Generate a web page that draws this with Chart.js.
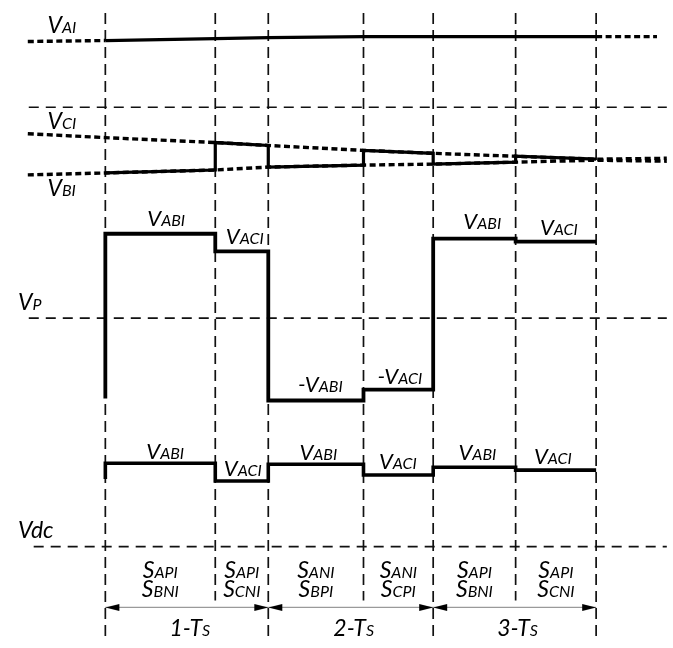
<!DOCTYPE html>
<html>
<head>
<meta charset="utf-8">
<script src="https://cdn.jsdelivr.net/npm/chart.js@4.4.1/dist/chart.umd.min.js"></script>
<style>
html,body{margin:0;padding:0;background:#fff;}
#wrap{width:673px;height:648px;position:relative;}
canvas{display:block;}
</style>
</head>
<body>
<div id="wrap"><canvas id="c" width="673" height="648"></canvas></div>
<script>
// ---------------- data ----------------
const switchTimes = [101, 213, 267, 364, 435, 519, 601];   // switching instants
const leadIn = 22, leadOut = 673, vaLeadOut = 663;
// phase voltages sampled at [leadIn, ...switchTimes, end]
const vaLevels = [36, 35, 33, 32, 31, 31, 31, 31, 31];
const vcLevels = [130, 134, 139, 142, 147, 150, 153, 156, 155];
const vbLevels = [172, 170, 167, 164, 162, 161, 159, 157, 158];
// VP waveform (one level per interval)
const vpStart = 400;
const vpLevels = [232, 250, 402, 391, 237, 240];
// Vdc waveform
const vdcStart = 482;
const vdcLevels = [466, 484, 467, 478, 470, 473];
// reference (dashed) levels
const refLevels = [103, 318, 551];
const refStarts = [23, 23, 28];
// interval labels
const vpLabelMain = ['V', 'V', '-V', '-V', 'V', 'V'];
const vpLabelSub  = ['ABI', 'ACI', 'ABI', 'ACI', 'ABI', 'ACI'];
const vdcLabelMain = ['V', 'V', 'V', 'V', 'V', 'V'];
const vdcLabelSub  = ['ABI', 'ACI', 'ABI', 'ACI', 'ABI', 'ACI'];
const switchTop    = ['API', 'API', 'ANI', 'ANI', 'API', 'API'];
const switchBottom = ['BNI', 'CNI', 'BPI', 'CPI', 'BNI', 'CNI'];
const periodNames  = ['1', '2', '3'];
const sideLabels = [['V','AI'], ['V','CI'], ['V','BI'], ['V','P'], ['Vdc','']];

// ---------------- layout (positions / styles, not data) ----------------
const gridTop = 7, gridBottomLong = 642, gridBottomShort = 606;
const dimY = 613;
const vpLabelPos  = [[163,224],[243,242],[320,393],[401,385],[485,227],[563,233]];
const vdcLabelPos = [[162,462],[241,479],[318,463],[399,472],[480,463],[557,467]];
const sideLabelPos = [[42,27],[42,125],[42,194],[12,310],[12,542]];
const switchBaselines = [583, 602];
const periodBaseline = 642;

function pts(arr){ return arr.map(([x,y]) => ({x, y})); }
function arrowCanvas(dir){
  const c = document.createElement('canvas');
  c.width = 30; c.height = 9;
  const g = c.getContext('2d');
  g.fillStyle = '#000';
  g.beginPath();
  if (dir > 0) { g.moveTo(15, 4.5); g.lineTo(1, 1); g.lineTo(1, 8); }
  else { g.moveTo(15, 4.5); g.lineTo(29, 1); g.lineTo(29, 8); }
  g.closePath(); g.fill();
  return c;
}
const arrowL = arrowCanvas(-1), arrowR = arrowCanvas(1);

const datasets = [];
const gridStyle = { borderColor:'#111', borderWidth:1.7, borderDash:[11,6], order:5 };
// vertical dashed grid
switchTimes.forEach((t, i) => {
  const bottom = (i % 2 === 0) ? gridBottomLong : gridBottomShort;
  datasets.push(Object.assign({ data: pts([[t, gridTop], [t, bottom]]) }, gridStyle));
});
// horizontal dashed reference lines
refLevels.forEach((y, i) => {
  datasets.push(Object.assign({ data: pts([[refStarts[i], y], [leadOut, y]]) }, gridStyle, { borderDash:[10,7] }));
});
const dotStyle = { borderColor:'#000', borderWidth:3.4, borderDash:[6,3.5], order:3 };
const solidStyle = { borderColor:'#000', borderWidth:3.4, order:1, borderJoinStyle:'miter' };
// VA
datasets.push(Object.assign({ data: pts([[leadIn, vaLevels[0]], [switchTimes[0], vaLevels[1]]]) }, dotStyle));
datasets.push(Object.assign({ data: pts([[switchTimes[6], vaLevels[7]], [vaLeadOut, vaLevels[8]]]) }, dotStyle));
datasets.push(Object.assign({ data: pts(switchTimes.map((t, i) => [t, vaLevels[i + 1]])) }, solidStyle, { borderWidth:3.2 }));
// VC, VB full dotted traces
const traceX = [leadIn, ...switchTimes, leadOut];
datasets.push(Object.assign({ data: pts(traceX.map((x, i) => [x, vcLevels[i]])) }, dotStyle));
datasets.push(Object.assign({ data: pts(traceX.map((x, i) => [x, vbLevels[i]])) }, dotStyle));
// active (solid) phase
const active = [];
for (let i = 0; i < 6; i++) {
  const src = (i % 2 === 0) ? vbLevels : vcLevels;
  active.push([switchTimes[i], src[i + 1]], [switchTimes[i + 1], src[i + 2]]);
}
datasets.push(Object.assign({ data: pts(active) }, solidStyle, { borderWidth:3.2 }));
// VP
const vp = [[switchTimes[0], vpStart]];
vpLevels.forEach((v, i) => { vp.push([switchTimes[i], v], [switchTimes[i + 1], v]); });
datasets.push(Object.assign({ data: pts(vp) }, solidStyle, { borderWidth:3.8 }));
// Vdc
const vd = [[switchTimes[0], vdcStart]];
vdcLevels.forEach((v, i) => { vd.push([switchTimes[i], v], [switchTimes[i + 1], v]); });
datasets.push(Object.assign({ data: pts(vd) }, solidStyle, { borderWidth:3.6 }));
// dimension arrows
for (let k = 0; k < 3; k++) {
  const a = switchTimes[2 * k], b = switchTimes[2 * k + 2];
  datasets.push({
    data: pts([[a, dimY], [b, dimY]]),
    borderColor:'#9a9a9a', borderWidth:1.2, order:0,
    pointRadius:5, pointStyle:(c) => c.dataIndex === 0 ? arrowL : arrowR
  });
}

// ---------------- text plugin ----------------
const FONT = 'Lato, "Open Sans", sans-serif';
function drawParts(ctx, parts, x, y, align){
  let total = 0;
  parts.forEach(p => { ctx.font = 'italic ' + p[1] + 'px ' + FONT; p.w = ctx.measureText(p[0]).width; total += p.w; });
  let cx = align === 'center' ? x - total / 2 : x;
  parts.forEach(p => { ctx.font = 'italic ' + p[1] + 'px ' + FONT; ctx.fillText(p[0], cx, y); cx += p.w; });
}
const textPlugin = {
  id:'texts',
  afterDatasetsDraw(chart){
    const ctx = chart.ctx, sx = chart.scales.x, sy = chart.scales.y;
    const X = v => sx.getPixelForValue(v), Y = v => sy.getPixelForValue(v);
    ctx.save();
    ctx.fillStyle = '#000';
    ctx.textBaseline = 'alphabetic';
    ctx.textAlign = 'left';
    vpLabelMain.forEach((m, i) => drawParts(ctx, [[m, 22], [vpLabelSub[i], 16]], X(vpLabelPos[i][0]), Y(vpLabelPos[i][1]), 'center'));
    vdcLabelMain.forEach((m, i) => drawParts(ctx, [[m, 22], [vdcLabelSub[i], 16]], X(vdcLabelPos[i][0]), Y(vdcLabelPos[i][1]), 'center'));
    sideLabels.forEach((s, i) => drawParts(ctx, [[s[0], 23], [s[1], 16]], X(sideLabelPos[i][0]), Y(sideLabelPos[i][1]), 'left'));
    for (let i = 0; i < 6; i++) {
      const mid = (switchTimes[i] + switchTimes[i + 1]) / 2;
      drawParts(ctx, [['S', 23], [switchTop[i], 16]], X(mid), Y(switchBaselines[0]), 'center');
      drawParts(ctx, [['S', 23], [switchBottom[i], 16]], X(mid), Y(switchBaselines[1]), 'center');
    }
    periodNames.forEach((n, k) => {
      const mid = (switchTimes[2 * k] + switchTimes[2 * k + 2]) / 2 + 3;
      drawParts(ctx, [[n + '-T', 23], ['S', 16]], X(mid), Y(periodBaseline), 'center');
    });
    ctx.restore();
  }
};

function build(){
  new Chart(document.getElementById('c'), {
    type:'line',
    data:{ datasets },
    options:{
      responsive:false, animation:false, events:[],
      layout:{ padding:0 },
      plugins:{ legend:{ display:false }, tooltip:{ enabled:false } },
      elements:{ point:{ radius:0 }, line:{ tension:0, fill:false } },
      datasets:{ line:{ clip:false, pointRadius:0, borderCapStyle:'butt' } },
      scales:{
        x:{ type:'linear', min:0, max:673, display:false },
        y:{ type:'linear', min:0, max:648, reverse:true, display:false }
      }
    },
    plugins:[textPlugin]
  });
}
if (document.fonts && document.fonts.load) {
  Promise.all([document.fonts.load('italic 20px Lato'), document.fonts.load('italic 14px Lato')]).then(build, build);
} else build();
</script>
</body>
</html>
